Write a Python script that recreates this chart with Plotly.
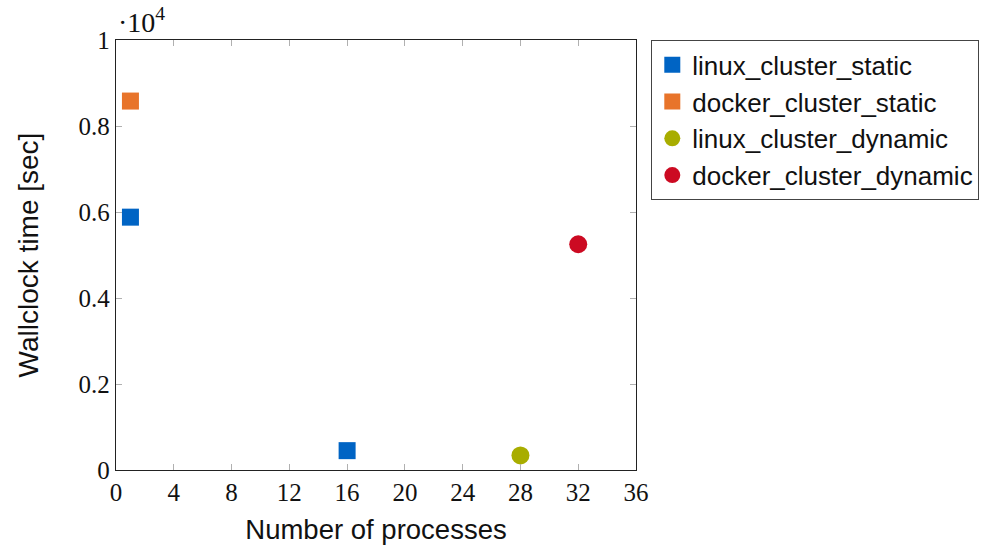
import plotly.graph_objects as go

# Wallclock time per configuration
linux_static_x = [1, 16]
linux_static_y = [5880, 450]
docker_static_x = [1]
docker_static_y = [8580]
linux_dynamic_x = [28]
linux_dynamic_y = [340]
docker_dynamic_x = [32]
docker_dynamic_y = [5250]

x_ticks = [0, 4, 8, 12, 16, 20, 24, 28, 32, 36]
y_ticks = [0, 2000, 4000, 6000, 8000, 10000]
y_tick_labels = ["0", "0.2", "0.4", "0.6", "0.8", "1"]

series = [
    ("linux_cluster_static", linux_static_x, linux_static_y, "square", "#0064c4"),
    ("docker_cluster_static", docker_static_x, docker_static_y, "square", "#e8742a"),
    ("linux_cluster_dynamic", linux_dynamic_x, linux_dynamic_y, "circle", "#a8ad00"),
    ("docker_cluster_dynamic", docker_dynamic_x, docker_dynamic_y, "circle", "#cc0a22"),
]

fig = go.Figure()
for name, xs, ys, sym, col in series:
    fig.add_trace(go.Scatter(
        x=xs, y=ys, mode="markers", name=name,
        marker=dict(symbol=sym, size=17 if sym == "square" else 18, color=col,
                    line=dict(width=0)),
    ))

serif = "Liberation Serif, DejaVu Serif, serif"
sans = "Liberation Sans, Arial, sans-serif"

axis_common = dict(
    showline=True, linecolor="#222", linewidth=1.3, mirror="ticks",
    ticks="inside", ticklen=6, tickcolor="#b0b0b0", tickwidth=1.3,
    showgrid=False, zeroline=False, automargin=False,
    tickfont=dict(family=serif, size=25, color="#111"),
)

fig.update_layout(
    width=986, height=545,
    margin=dict(l=116, r=350, t=40, b=75, autoexpand=False),
    paper_bgcolor="white", plot_bgcolor="white",
    xaxis=dict(range=[0, 36], tickvals=x_ticks, **axis_common,
               title=dict(text="Number of processes", font=dict(family=sans, size=27.5, color="#111"),
                          standoff=16)),
    yaxis=dict(range=[0, 10000], tickvals=y_ticks, ticktext=y_tick_labels, **axis_common,
               title=dict(text="Wallclock time [sec]", font=dict(family=sans, size=28, color="#111"),
                          standoff=31)),
    legend=dict(
        xref="container", yref="container",
        x=651 / 986, y=1 - 40 / 545, xanchor="left", yanchor="top",
        bgcolor="white", bordercolor="#444", borderwidth=1.3,
        font=dict(family=sans, size=26, color="#111"),
        itemwidth=30, tracegroupgap=0,
    ),
    showlegend=True,
)

fig.add_annotation(
    x=0, y=1.0, xref="paper", yref="paper", xanchor="left", yanchor="bottom",
    text="·10<sup>4</sup>", showarrow=False, yshift=0,
    font=dict(family=serif, size=28, color="#111"),
)

fig.write_html("out.html")
